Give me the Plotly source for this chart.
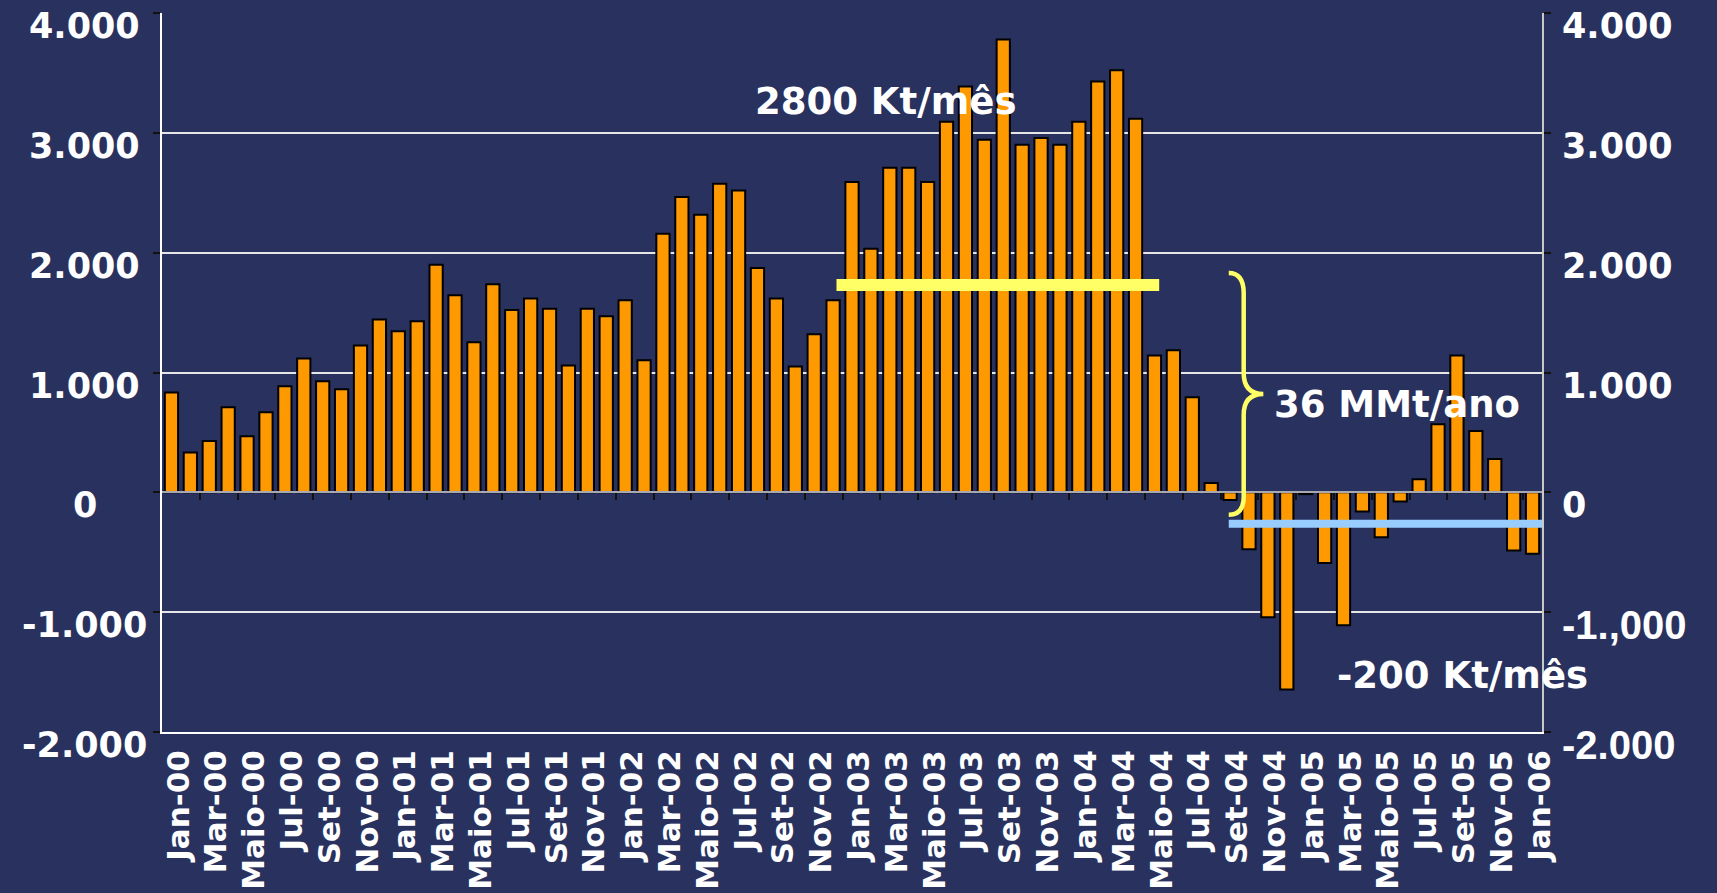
import plotly.graph_objects as go

# ---------------- data ----------------
month_names = ["Jan", "Fev", "Mar", "Abr", "Maio", "Jun", "Jul", "Ago", "Set", "Out", "Nov", "Dez"]
categories = [f"{m}-{y:02d}" for y in range(0, 6) for m in month_names] + ["Jan-06"]

values = [
    833, 333, 428, 711, 469, 669, 886, 1117, 928, 861, 1225, 1442,          # 2000
    1344, 1428, 1900, 1644, 1253, 1736, 1522, 1617, 1533, 1058, 1533, 1469,  # 2001
    1603, 1103, 2158, 2464, 2317, 2575, 2519, 1872, 1617, 1050, 1319, 1603,  # 2002
    2589, 2033, 2708, 2708, 2589, 3092, 3386, 2942, 3778, 2900, 2956, 2900,  # 2003
    3092, 3428, 3522, 3117, 1142, 1186, 794, 78, -65, -474, -1043, -1646,    # 2004
    -15, -590, -1110, -160, -374, -76, 110, 568, 1142, 512, 279, -485,       # 2005
    -513,                                                                    # 2006
]

tick_positions = list(range(0, len(categories), 2))
tick_labels = categories[::2]

y_ticks = [-2000, -1000, 0, 1000, 2000, 3000, 4000]
left_labels = ["-2.000", "-1.000", "0", "1.000", "2.000", "3.000", "4.000"]
right_labels = ["-2.000", "-1.,000", "0", "1.000", "2.000", "3.000", "4.000"]

high_level = 1730      # yellow reference line
low_level = -262       # blue reference line
high_span = (35.18, 52.25)
low_span = (55.93, 72.56)

# ---------------- styling ----------------
BG = "#29325f"
BOLD = dict(family="DejaVu Sans", weight="bold", color="white")

x_idx = list(range(len(categories)))

fig = go.Figure()
fig.add_trace(go.Bar(
    x=x_idx, y=values,
    marker=dict(color="#FF9900", line=dict(color="black", width=2)),
    hovertext=categories, showlegend=False,
))
# helper trace so that the secondary axes (zero line with ticks, right axis) get drawn
fig.add_trace(go.Scatter(x=[None], y=[None], xaxis="x2", yaxis="y2",
                         showlegend=False, hoverinfo="skip"))

fig.update_layout(
    width=1717, height=893,
    paper_bgcolor=BG, plot_bgcolor=BG,
    margin=dict(l=162, r=175, t=13, b=161, autoexpand=False),
    bargap=0.30,
    showlegend=False,
    xaxis=dict(
        range=[-0.5, len(categories) - 0.5],
        tickmode="array", tickvals=tick_positions, ticktext=tick_labels,
        tickangle=-90, tickfont=dict(size=31, **BOLD),
        ticks="", showgrid=False, zeroline=False, automargin=False,
        showline=True, linecolor="white", linewidth=1.5,
        ticklabelshift=7, ticklabelstandoff=4,
    ),
    yaxis=dict(
        range=[-2000, 4000], tickmode="array", tickvals=y_ticks,
        showticklabels=False, automargin=False,
        ticks="outside", ticklen=7, tickcolor="#111111", tickwidth=1.5,
        showgrid=True, gridcolor="#e6e6e6", gridwidth=1.5,
        zeroline=False,
        showline=True, linecolor="white", linewidth=1.5,
    ),
    xaxis2=dict(
        overlaying="x", anchor="free", position=1 / 3, side="bottom",
        range=[-0.5, len(categories) - 0.5], automargin=False,
        tickmode="array", tickvals=[p - 0.5 for p in range(2, len(categories), 2)],
        showticklabels=False, ticks="outside", ticklen=7, tickcolor="#111111", tickwidth=1.5,
        showline=True, linecolor="#a8a8b0", linewidth=2,
        showgrid=False, zeroline=False,
    ),
    yaxis2=dict(
        overlaying="y", side="right", anchor="x", automargin=False,
        range=[-2000, 4000], tickmode="array", tickvals=y_ticks,
        showticklabels=False, ticks="outside", ticklen=7, tickcolor="#111111", tickwidth=1.5,
        showline=True, linecolor="#c8c8c8", linewidth=1.5,
        showgrid=False, zeroline=False,
    ),
)

# reference lines
fig.add_shape(type="line", xref="x", yref="y",
              x0=high_span[0], x1=high_span[1], y0=high_level, y1=high_level,
              line=dict(color="#FFFF66", width=12))
fig.add_shape(type="line", xref="x", yref="y",
              x0=low_span[0], x1=low_span[1], y0=low_level, y1=low_level,
              line=dict(color="#99CCFF", width=8))
# curly brace
brace = ("M 55.93,1830 Q 56.72,1830 56.72,1663 L 56.72,996 Q 56.72,821 57.76,821 "
         "Q 56.72,821 56.72,646 L 56.72,-35 Q 56.72,-188 55.93,-188")
fig.add_shape(type="path", xref="x", yref="y", path=brace,
              line=dict(color="#FFFF66", width=4.5))

# y tick labels (left centred, right left-aligned)
for v, lab in zip(y_ticks, left_labels):
    fig.add_annotation(x=-0.0558, xref="paper", y=v, yref="y", text=lab,
                       showarrow=False, xanchor="center", yanchor="middle", yshift=-13,
                       font=dict(size=35, **BOLD))
for v, lab in zip(y_ticks, right_labels):
    if lab in ("-1.,000", "-2.000"):
        f = dict(size=40, family="Liberation Sans", weight="bold", color="white")
    else:
        f = dict(size=35, **BOLD)
    fig.add_annotation(x=1.013, xref="paper", y=v, yref="y", text=lab,
                       showarrow=False, xanchor="left", yanchor="middle", yshift=-13,
                       font=f)

# text annotations
fig.add_annotation(x=37.75, y=3262, xref="x", yref="y", text="2800 Kt/mês",
                   showarrow=False, xanchor="center", yanchor="middle",
                   font=dict(size=37, **BOLD))
fig.add_annotation(x=58.2, y=729, xref="x", yref="y", text="36 MMt/ano",
                   showarrow=False, xanchor="left", yanchor="middle",
                   font=dict(size=37, **BOLD))
fig.add_annotation(x=61.56, y=-1529, xref="x", yref="y", text="-200 Kt/mês",
                   showarrow=False, xanchor="left", yanchor="middle",
                   font=dict(size=37, **BOLD))

fig.write_html("out.html", config={"displayModeBar": False},
               post_script="document.body.style.margin='0';document.body.style.overflow='hidden';")
